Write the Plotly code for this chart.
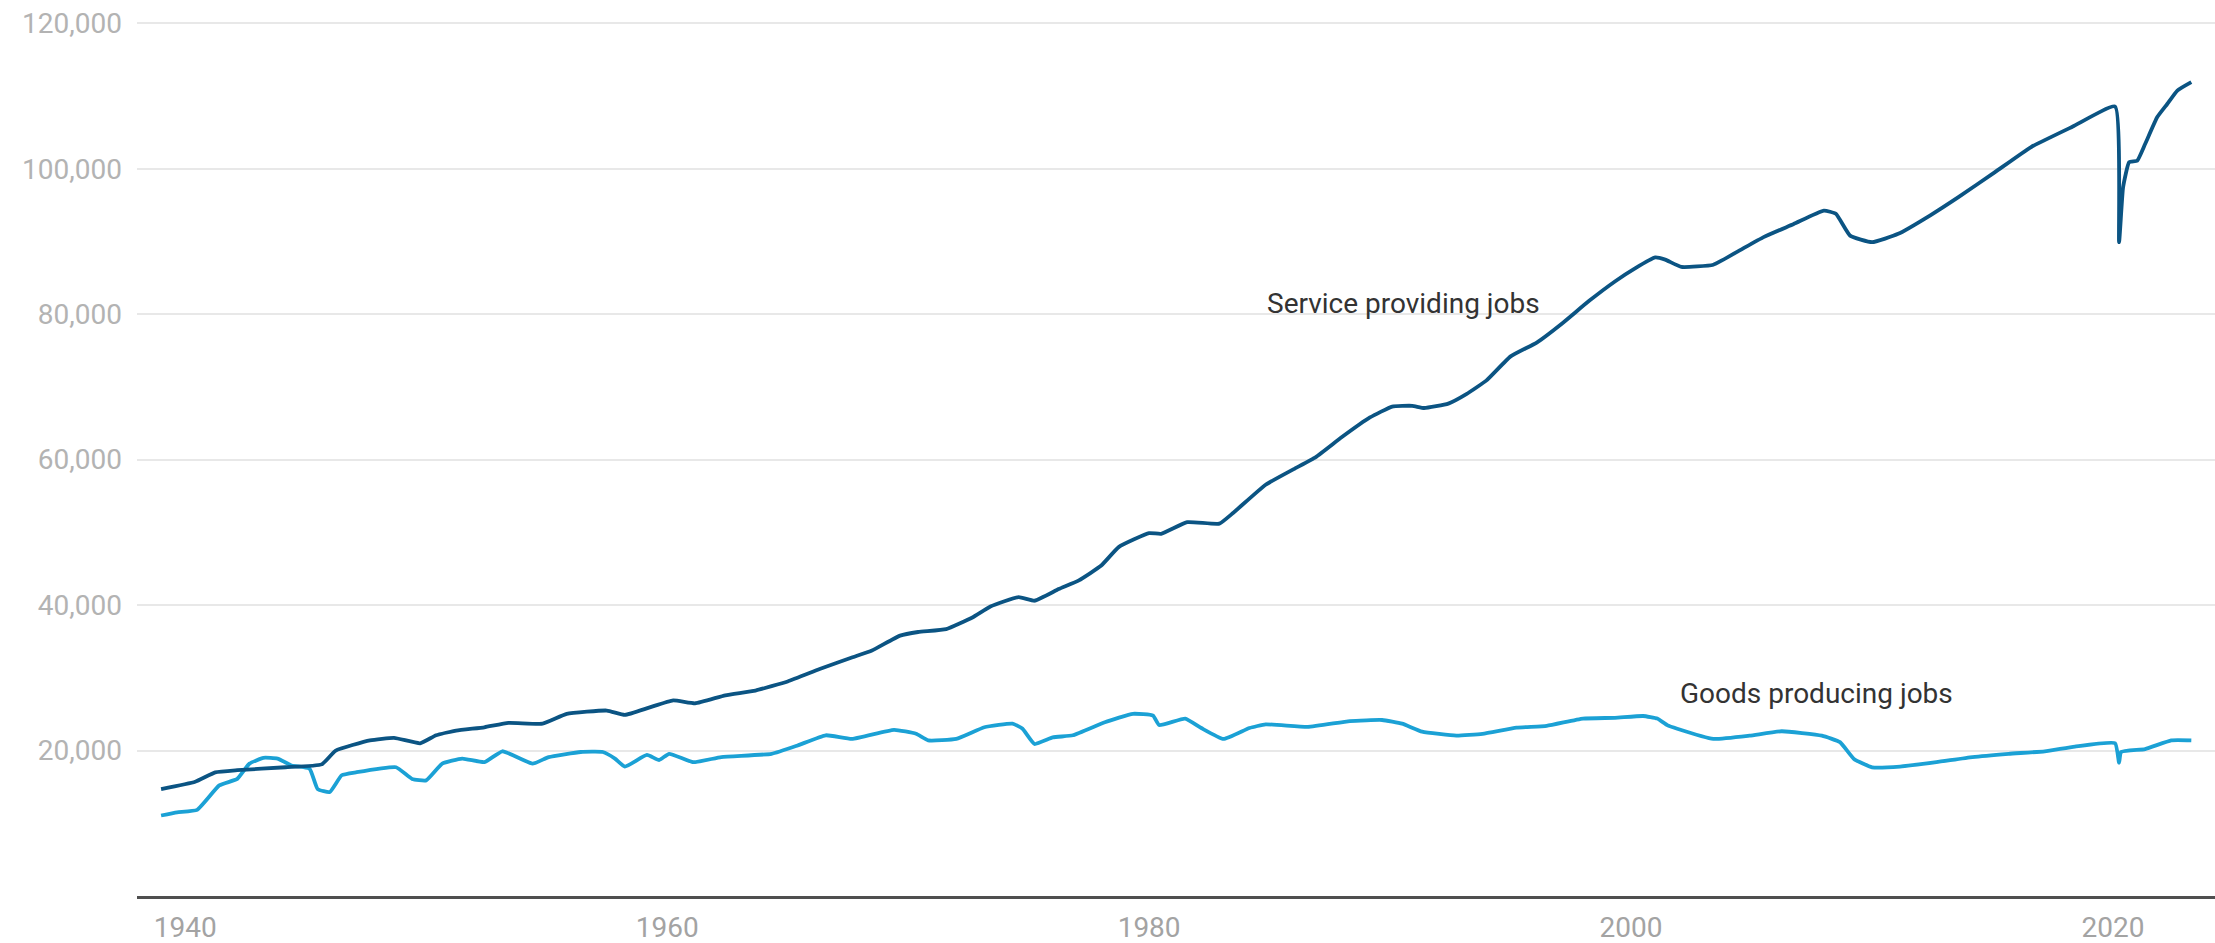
import plotly.graph_objects as go

# Private service-providing jobs (thousands)
service_dates = [
    "1939-01", "1940-06", "1941-04", "1942-03", "1944-03", "1945-09", "1946-04", "1947-09",
    "1948-09", "1949-10", "1950-06", "1951-04", "1952-06", "1953-06", "1954-11", "1955-11",
    "1957-07", "1958-04", "1959-04", "1960-04", "1961-03", "1962-06", "1963-09", "1965-01",
    "1966-05", "1967-09", "1968-07", "1969-09", "1970-06", "1971-08", "1972-09", "1973-06",
    "1974-08", "1975-04", "1976-04", "1977-02", "1978-01", "1978-10", "1980-01", "1980-07",
    "1981-08", "1982-12", "1983-07", "1984-11", "1986-01", "1986-12", "1988-01", "1989-03",
    "1990-02", "1990-12", "1991-06", "1992-06", "1993-03", "1994-01", "1995-01", "1996-02",
    "1997-03", "1998-04", "1999-05", "2000-03", "2001-01", "2001-06", "2002-02", "2003-06",
    "2004-06", "2005-07", "2006-10", "2008-01", "2008-07", "2009-02", "2010-01", "2011-02",
    "2012-06", "2013-08", "2015-02", "2016-08", "2018-05", "2020-02", "2020-04", "2020-06",
    "2020-09", "2021-01", "2021-05", "2021-11", "2022-04", "2022-09", "2023-04",
]
service_values = [
    14700, 15700, 17000, 17300, 17700, 18100, 20000, 21400,
    21750, 21000, 22100, 22750, 23200, 23800, 23700, 25050,
    25500, 24900, 25900, 26900, 26500, 27600, 28250, 29500,
    31200, 32800, 33750, 35800, 36300, 36700, 38300, 39800,
    41100, 40600, 42200, 43400, 45400, 48000, 49900, 49800,
    51400, 51200, 52700, 56550, 58700, 60350, 63100, 65800,
    67300, 67400, 67100, 67700, 69000, 70900, 74200, 76100,
    78800, 81800, 84500, 86300, 87800, 87500, 86500, 86800,
    88600, 90600, 92400, 94250, 93800, 90800, 89900, 91050,
    93600, 96100, 99500, 102950, 105800, 108550, 89900, 97450,
    100900, 101100, 103400, 107100, 108900, 110750, 111900,
]

# Goods-producing jobs (thousands)
goods_dates = [
    "1939-01", "1939-09", "1940-07", "1941-06", "1942-03", "1942-09", "1943-04", "1943-11",
    "1944-06", "1945-03", "1945-07", "1946-01", "1946-07", "1947-02", "1948-10", "1949-06",
    "1950-01", "1950-09", "1951-07", "1952-06", "1953-03", "1954-06", "1955-02", "1956-06",
    "1957-05", "1957-11", "1958-04", "1959-03", "1959-09", "1960-02", "1961-02", "1962-04",
    "1964-05", "1965-06", "1966-08", "1967-09", "1969-06", "1970-05", "1970-11", "1972-01",
    "1973-03", "1974-05", "1974-10", "1975-04", "1976-01", "1976-11", "1978-03", "1979-05",
    "1980-03", "1980-06", "1981-07", "1982-03", "1983-02", "1984-03", "1984-11", "1986-08",
    "1988-05", "1989-09", "1990-07", "1991-05", "1992-10", "1993-11", "1995-04", "1996-07",
    "1998-01", "1999-05", "2000-07", "2001-02", "2001-07", "2001-12", "2003-06", "2004-12",
    "2006-04", "2007-12", "2008-09", "2009-04", "2010-01", "2011-03", "2012-09", "2014-03",
    "2015-09", "2017-03", "2018-06", "2020-02", "2020-04", "2020-05", "2021-05", "2022-06",
    "2023-04",
]
goods_values = [
    11070, 11500, 11850, 15200, 16100, 18200, 19000, 18900,
    17950, 17500, 14700, 14300, 16600, 17000, 17700, 16100,
    15900, 18200, 18900, 18400, 19900, 18200, 19100, 19800,
    19800, 18900, 17800, 19400, 18700, 19550, 18400, 19100,
    19550, 20700, 22100, 21600, 22850, 22300, 21400, 21600,
    23200, 23700, 23000, 20900, 21800, 22100, 23900, 25050,
    24800, 23500, 24400, 23100, 21600, 23100, 23600, 23250,
    24050, 24200, 23700, 22600, 22050, 22300, 23150, 23400,
    24400, 24500, 24750, 24400, 23500, 23000, 21600, 22050,
    22650, 22050, 21150, 18850, 17700, 17800, 18400, 19100,
    19550, 19900, 20550, 21000, 18300, 19800, 20200, 21400,
    21400,
]

y_ticks = [20000, 40000, 60000, 80000, 100000, 120000]
y_tick_labels = ["20,000", "40,000", "60,000", "80,000", "100,000", "120,000"]

label_service = "Service providing jobs"
label_goods = "Goods producing jobs"

FONT = "Roboto, 'Open Sans', Arial, sans-serif"

fig = go.Figure()
fig.add_trace(go.Scatter(
    x=goods_dates, y=goods_values, mode="lines", name=label_goods,
    line=dict(color="#1ba1d5", width=3.8, shape="spline", smoothing=0.4),
    hoverinfo="skip",
))
fig.add_trace(go.Scatter(
    x=service_dates, y=service_values, mode="lines", name=label_service,
    line=dict(color="#0b5483", width=3.8, shape="spline", smoothing=0.4),
    hoverinfo="skip",
))

fig.add_annotation(x="1990-07-30", y=81500, text=label_service, showarrow=False,
                   xanchor="center", yanchor="middle",
                   font=dict(family=FONT, size=28, color="#333333"))
fig.add_annotation(x="2007-09-05", y=27850, text=label_goods, showarrow=False,
                   xanchor="center", yanchor="middle",
                   font=dict(family=FONT, size=28, color="#333333"))

fig.update_layout(
    width=2215, height=943,
    margin=dict(l=137, r=0, t=20, b=47, autoexpand=False),
    paper_bgcolor="white", plot_bgcolor="white",
    showlegend=False,
    hovermode=False,
    font=dict(family=FONT),
)
fig.update_xaxes(
    type="date",
    automargin=False,
    range=["1938-01-01", "2024-03-25"],
    tick0="1940-01-01", dtick="M240",
    tickformat="%Y",
    showgrid=False, zeroline=False,
    showline=True, linecolor="#4f4f4f", linewidth=3,
    ticks="", ticklabelstandoff=4,
    tickfont=dict(family=FONT, size=28, color="#a3a3a3"),
)
fig.update_yaxes(
    automargin=False,
    range=[0, 120450],
    tickvals=y_ticks, ticktext=y_tick_labels,
    showgrid=True, gridcolor="#e8e8e8", gridwidth=2,
    zeroline=False, showline=False,
    ticks="", ticklabelstandoff=14,
    tickfont=dict(family=FONT, size=28, color="#b3b3b3"),
)

fig.write_html(
    "out.html",
    config={"displayModeBar": False, "staticPlot": True},
    post_script="document.body.style.margin='0';document.body.style.overflow='hidden';",
)
